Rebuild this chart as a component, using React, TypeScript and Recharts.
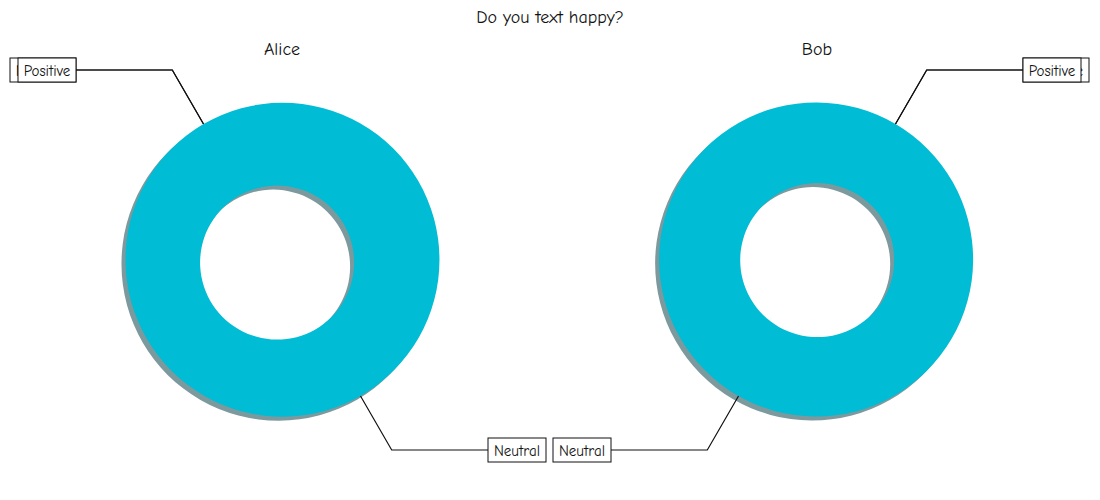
import { PieChart, Pie, Cell } from "recharts";

const chartTitle = "Do you text happy?";
const people = ["Alice", "Bob"];
const sentiments = ["Negative", "Positive", "Neutral"];
const aliceCounts = [0, 0, 100];
const bobCounts = [0, 0, 100];

const FONT = '"Comic Sans MS", "Comic Neue", Lato, sans-serif';
const CYAN = "#00bcd4";
const LABEL_SIZE = 15;

const aliceData = sentiments.map((name, i) => ({ name, value: aliceCounts[i] }));
const bobData = sentiments.map((name, i) => ({ name, value: bobCounts[i] }));

const pies = [
  { who: people[0], data: aliceData, cx: 282, start: 120 },
  { who: people[1], data: bobData, cx: 817, start: 60 },
];

const CY = 260;
const INNER = 77;
const OUTER = 157;
const RISE = 190; // label rows sit this far above / below the centre
const COLUMN = 206; // label boxes line up this far left / right of the centre

let measureCtx: CanvasRenderingContext2D | null = null;
function textWidth(s: string) {
  if (!measureCtx) measureCtx = document.createElement("canvas").getContext("2d");
  if (!measureCtx) return s.length * 7;
  measureCtx.font = `${LABEL_SIZE}px ${FONT}`;
  return measureCtx.measureText(s).width;
}

function renderLabel(props: any) {
  const { cx, cy, midAngle, outerRadius, name } = props;
  const rad = (-midAngle * Math.PI) / 180;
  const cos = Math.cos(rad);
  const sin = Math.sin(rad);
  const sx = cx + outerRadius * cos;
  const sy = cy + outerRadius * sin;
  const dist = RISE / Math.max(Math.abs(sin), 0.2);
  const ex = cx + dist * cos;
  const ey = cy + (sin < 0 ? -RISE : RISE);
  const left = cos < 0;
  const w = Math.round(textWidth(name)) + 12;
  const boxX = left ? cx - COLUMN - w : cx + COLUMN;
  const lineEnd = left ? cx - COLUMN : cx + COLUMN;
  return (
    <g>
      <polyline
        points={`${sx},${sy} ${ex},${ey} ${lineEnd},${ey}`}
        fill="none"
        stroke="#111"
        strokeWidth={1.2}
      />
      <rect x={boxX} y={ey - 12} width={w} height={24} fill="#fff" stroke="#111" strokeWidth={1} />
      <text
        x={boxX + w / 2}
        y={ey + 1}
        textAnchor="middle"
        dominantBaseline="central"
        fontSize={LABEL_SIZE}
        fontFamily={FONT}
        fill="#111"
      >
        {name}
      </text>
    </g>
  );
}

export default function App() {
  return (
    <div style={{ position: "relative", width: 1100, height: 500, background: "#fff", fontFamily: FONT }}>
      <style>{`body{margin:0}g.recharts-pie.ring{filter:drop-shadow(-4px 4px 0.4px rgba(30,80,88,0.58))}`}</style>
      <div style={{ position: "absolute", left: 0, width: 1100, top: 7, textAlign: "center", fontSize: 18, color: "#111" }}>
        {chartTitle}
      </div>
      {pies.map((p) => (
        <div
          key={p.who}
          style={{ position: "absolute", left: p.cx - 100, width: 200, top: 39, textAlign: "center", fontSize: 18, color: "#111" }}
        >
          {p.who}
        </div>
      ))}
      <div style={{ position: "absolute", left: 0, top: 0 }}>
        <PieChart width={1100} height={500} margin={{ top: 0, right: 0, bottom: 0, left: 0 }}>
          {pies.map((p) => (
            <Pie
              key={`ring-${p.who}`}
              className="ring"
              data={p.data}
              dataKey="value"
              nameKey="name"
              cx={p.cx}
              cy={CY}
              innerRadius={INNER}
              outerRadius={OUTER}
              startAngle={p.start}
              endAngle={p.start + 360}
              stroke="none"
              labelLine={false}
              isAnimationActive={false}
            >
              {p.data.map((d) => (
                <Cell key={d.name} fill={CYAN} />
              ))}
            </Pie>
          ))}
          {pies.map((p) => (
            <Pie
              key={`labels-${p.who}`}
              data={p.data}
              dataKey="value"
              nameKey="name"
              cx={p.cx}
              cy={CY}
              innerRadius={INNER}
              outerRadius={OUTER}
              startAngle={p.start}
              endAngle={p.start + 360}
              fill="none"
              stroke="none"
              labelLine={false}
              label={renderLabel}
              isAnimationActive={false}
            />
          ))}
        </PieChart>
      </div>
    </div>
  );
}
